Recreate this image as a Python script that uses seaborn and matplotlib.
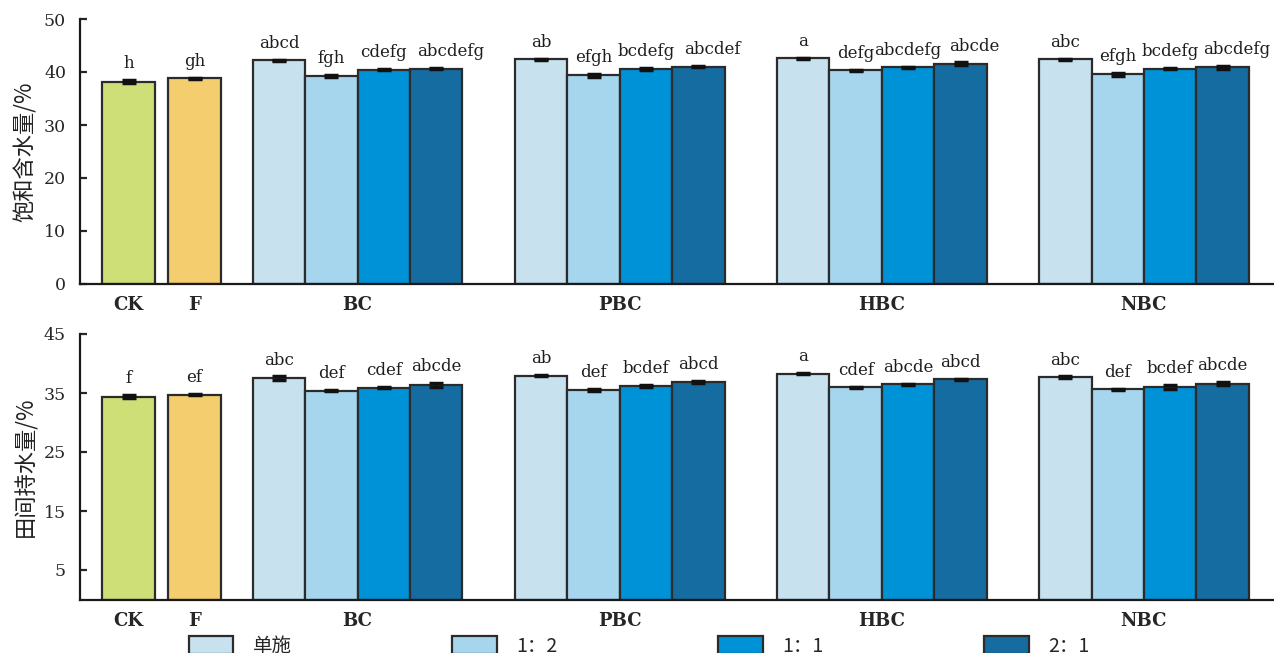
import numpy as np
import pandas as pd
import matplotlib
matplotlib.use("Agg")
import matplotlib.pyplot as plt
import seaborn as sns
from matplotlib.patches import Patch

# 数据
controls = ["CK", "F"]
groups = ["BC", "PBC", "HBC", "NBC"]
ratios = ["单施", "1：2", "1：1", "2：1"]

# 饱和含水量 /%
sat_ctrl = [38.2, 38.8]
sat_ctrl_err = [0.3, 0.1]
sat_mix = [[42.2, 39.2, 40.4, 40.6],
           [42.4, 39.4, 40.5, 41.0],
           [42.6, 40.3, 40.9, 41.6],
           [42.4, 39.6, 40.6, 40.9]]
sat_mix_err = [[0.1, 0.2, 0.1, 0.1],
               [0.1, 0.3, 0.2, 0.1],
               [0.1, 0.1, 0.1, 0.2],
               [0.1, 0.3, 0.1, 0.3]]
sat_ctrl_sig = ["h", "gh"]
sat_mix_sig = [["abcd", "fgh", "cdefg", "abcdefg"],
               ["ab", "efgh", "bcdefg", "abcdef"],
               ["a", "defg", "abcdefg", "abcde"],
               ["abc", "efgh", "bcdefg", "abcdefg"]]

# 田间持水量 /%
fc_ctrl = [34.4, 34.7]
fc_ctrl_err = [0.3, 0.1]
fc_mix = [[37.5, 35.4, 35.9, 36.4],
          [37.9, 35.5, 36.2, 36.9],
          [38.3, 36.0, 36.5, 37.3],
          [37.7, 35.6, 36.0, 36.6]]
fc_mix_err = [[0.3, 0.1, 0.1, 0.3],
              [0.1, 0.1, 0.1, 0.2],
              [0.1, 0.1, 0.1, 0.1],
              [0.1, 0.1, 0.3, 0.3]]
fc_ctrl_sig = ["f", "ef"]
fc_mix_sig = [["abc", "def", "cdef", "abcde"],
              ["ab", "def", "bcdef", "abcd"],
              ["a", "cdef", "abcde", "abcd"],
              ["abc", "def", "bcdef", "abcde"]]

palette = {"CK": "#CEDF78", "F": "#F3CD6E",
           "单施": "#C8E1EE", "1：2": "#A6D6EE",
           "1：1": "#0092D6", "2：1": "#146CA0"}

# 柱子位置（单位：柱宽）
ctrl_pos = [0.0, 1.26]
mix_pos = [[2.87 + 5 * g + i for i in range(4)] for g in range(len(groups))]
group_centers = [np.mean(p) for p in mix_pos]


def make_df(ctrl, ctrl_err, ctrl_sig, mix, mix_err, mix_sig):
    rows = []
    for name, p, v, e, s in zip(controls, ctrl_pos, ctrl, ctrl_err, ctrl_sig):
        rows.append((p, v, e, s, name))
    for g in range(len(groups)):
        for i in range(4):
            rows.append((mix_pos[g][i], mix[g][i], mix_err[g][i], mix_sig[g][i], ratios[i]))
    return pd.DataFrame(rows, columns=["pos", "val", "err", "sig", "kind"])


sns.set_theme(style="white")
plt.rcParams["font.family"] = ["DejaVu Serif", "Noto Sans CJK SC"]
cjk = ["Noto Sans CJK SC", "DejaVu Sans"]

fig = plt.figure(figsize=(12.74, 6.53), dpi=100)
ax_top = fig.add_axes([80 / 1274, 1 - 284 / 653, 1 - 80 / 1274, 265 / 653])
ax_bot = fig.add_axes([80 / 1274, 1 - 599.5 / 653, 1 - 80 / 1274, 265.5 / 653])

# 最后一根柱（2：1）上的字母在上图中略向右偏
panels = [
    (ax_top, make_df(sat_ctrl, sat_ctrl_err, sat_ctrl_sig, sat_mix, sat_mix_err, sat_mix_sig),
     "饱和含水量/%", (0, 50), [0, 10, 20, 30, 40, 50], 1.5, 0.27),
    (ax_bot, make_df(fc_ctrl, fc_ctrl_err, fc_ctrl_sig, fc_mix, fc_mix_err, fc_mix_sig),
     "田间持水量/%", (0, 45), [5, 15, 25, 35, 45], 1.35, 0.0),
]

for ax, df, ylab, ylim, yticks, off, shift in panels:
    sns.barplot(data=df, x="pos", y="val", hue="kind", palette=palette, saturation=1,
                native_scale=True, dodge=False, width=1.0, errorbar=None,
                edgecolor="#2b2b2b", linewidth=1.6, legend=False, ax=ax)
    ax.errorbar(df["pos"], df["val"], yerr=df["err"], fmt="none",
                ecolor="#111111", elinewidth=1.0, capsize=5, capthick=2.5, zorder=5)
    for _, r in df.iterrows():
        dx = shift if r["kind"] == "2：1" else 0.0
        ax.text(r["pos"] + dx, r["val"] + r["err"] + off, r["sig"], ha="center", va="bottom",
                fontsize=12, color="#1e1e1e")

    ax.set_xlim(-0.926, 21.85)
    ax.set_ylim(*ylim)
    ax.set_yticks(yticks)
    ax.set_yticklabels([str(t) for t in yticks], fontsize=12.5)
    ax.set_xticks(ctrl_pos + group_centers)
    ax.set_xticklabels(controls + groups, fontsize=13, fontweight="bold")
    ax.tick_params(axis="x", length=0, pad=9)
    ax.tick_params(axis="y", direction="in", length=5, width=1.6, pad=10, left=True)
    ax.set_xlabel("")
    ax.set_ylabel(ylab, fontsize=16, family=cjk, color="#222222")
    ax.yaxis.set_label_coords(-0.036, 0.5)
    for side in ["top", "right"]:
        ax.spines[side].set_visible(False)
    for side in ["left", "bottom"]:
        ax.spines[side].set_color("#1a1a1a")
        ax.spines[side].set_linewidth(1.6)

handles = [Patch(facecolor=palette[r], edgecolor="#2b2b2b", linewidth=1.6) for r in ratios]
leg = fig.legend(handles, ratios, loc="upper left", bbox_to_anchor=(179 / 1274, 1 - 626 / 653),
                 ncol=4, frameon=False, borderpad=0, handlelength=2.3, handleheight=1.0,
                 handletextpad=1.0, columnspacing=8.25, prop={"family": cjk, "size": 14})

fig.savefig("out.png", dpi=100)
